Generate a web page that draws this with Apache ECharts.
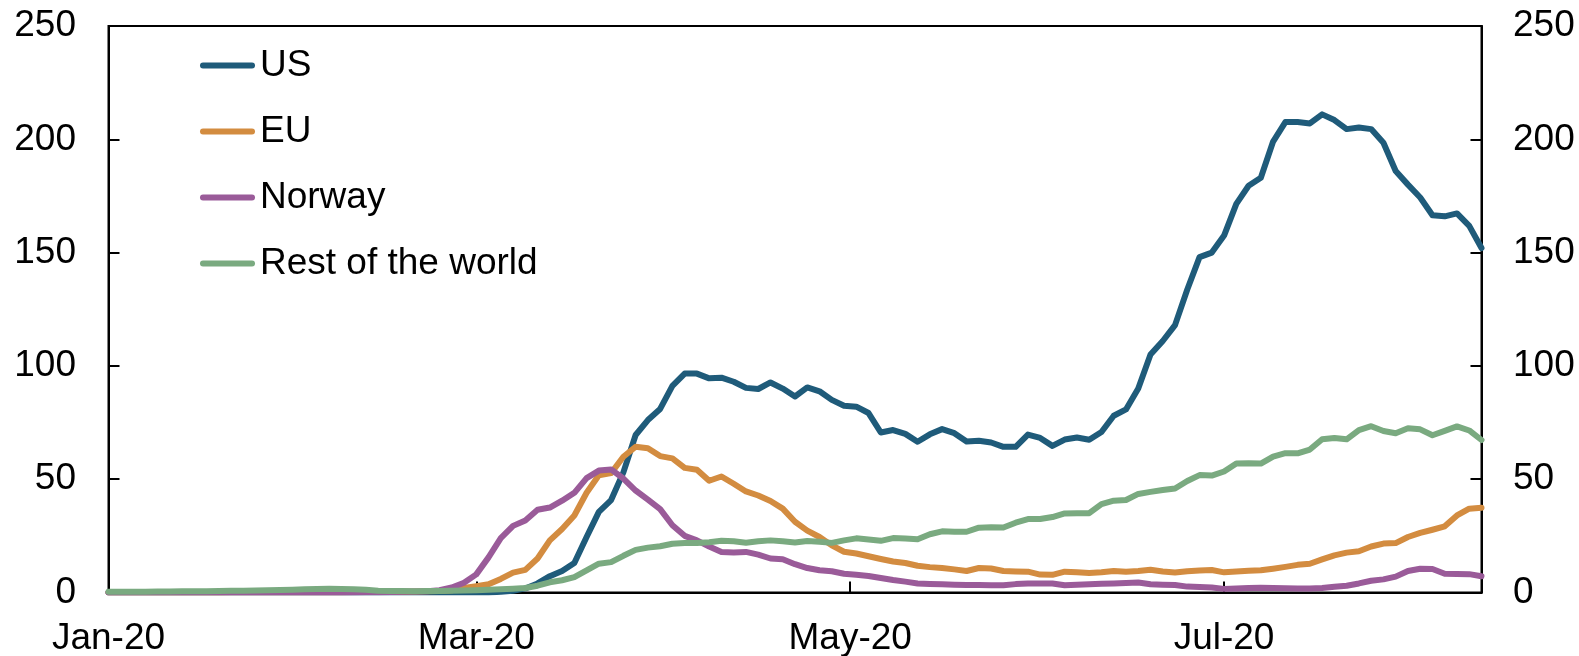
<!DOCTYPE html>
<html>
<head>
<meta charset="utf-8">
<title>US, EU, Norway, Rest of the world</title>
<script src="https://cdn.jsdelivr.net/npm/echarts@6/dist/echarts.min.js"></script>
<style>
  html, body { margin: 0; padding: 0; background: #fff; }
  #chart { width: 1579px; height: 656px; }
</style>
</head>
<body>
<div id="chart"></div>
<script>
// day offsets from 1 Jan 2020, every second day (rows of 10 = 20 days)
const days = [];
for (let d = 0; d <= 224; d += 2) days.push(d);

// axis ticks / labels (days from 1 Jan 2020)
const tickDays = [0, 60, 121, 182];
const tickLabels = ['Jan-20', 'Mar-20', 'May-20', 'Jul-20'];
const yTicks = [0, 50, 100, 150, 200, 250];

const us = [
  0, 0, 0, 0, 0, 0, 0, 0, 0, 0,
  0, 0, 0, 0, 0, 0, 0, 0, 0, 0,
  0, 0, 0, 0, 0, 0, 0, 0, 0, 0,
  0, 0, 0.3, 0.8, 1.8, 4, 7.2, 9.5, 13, 24.5,
  35.6, 40.8, 53, 69.5, 76.1, 81, 91.2, 96.6, 96.6, 94.5,
  94.8, 93, 90.3, 89.8, 92.7, 90, 86.5, 90.5, 88.8, 85,
  82.4, 82, 79.2, 70.6, 71.7, 70, 66.5, 69.8, 72.1, 70.3,
  66.6, 67, 66.2, 64.3, 64.3, 69.7, 68.2, 64.7, 67.5, 68.4,
  67.4, 70.8, 78, 80.8, 90, 105, 111, 118, 133.7, 148,
  150, 157.5, 171.5, 179.5, 183, 199, 207.6, 207.6, 207, 211,
  208.5, 204.5, 205.2, 204.5, 198.5, 186, 180, 174.3, 166.5, 166,
  167.3, 161.8, 152
];

const eu = [
  0, 0, 0, 0, 0, 0, 0, 0, 0, 0,
  0.1, 0.1, 0.1, 0.1, 0.1, 0.1, 0.1, 0.1, 0.1, 0.1,
  0.2, 0.2, 0.2, 0.3, 0.3, 0.4, 0.5, 0.7, 1, 2,
  2.8, 3.6, 6, 8.8, 10, 15, 23, 28, 34, 44,
  51.7, 52.7, 59.9, 64.3, 63.7, 60.2, 59.2, 55, 54.2, 49.3,
  51.2, 48, 44.6, 42.8, 40.4, 37, 31.2, 27.3, 24.5, 20.8,
  18, 17.2, 16, 14.8, 13.7, 13, 11.8, 11.2, 10.8, 10.2,
  9.5, 10.8, 10.6, 9.5, 9.3, 9.2, 7.9, 7.8, 9.2, 8.9,
  8.6, 8.9, 9.5, 9.2, 9.5, 10, 9.3, 8.8, 9.4, 9.7,
  9.9, 8.9, 9.3, 9.6, 9.8, 10.5, 11.3, 12.2, 12.7, 14.6,
  16.4, 17.6, 18.2, 20.3, 21.6, 21.8, 24.5, 26.3, 27.7, 29.2,
  34, 37, 37.4
];

const norway = [
  0, 0, 0, 0, 0, 0, 0, 0, 0, 0,
  0, 0, 0, 0, 0, 0, 0, 0, 0, 0,
  0, 0.1, 0.1, 0.2, 0.3, 0.4, 0.6, 1, 2.2, 4.3,
  8, 15.5, 24, 29.4, 31.8, 36.5, 37.5, 40.5, 44, 50.5,
  53.8, 54.3, 50.3, 45, 41, 36.8, 29.7, 25, 23, 20.3,
  17.9, 17.6, 17.9, 16.7, 15, 14.7, 12.5, 10.8, 9.8, 9.4,
  8.3, 7.8, 7.3, 6.4, 5.5, 4.8, 4, 3.8, 3.6, 3.4,
  3.3, 3.3, 3.2, 3.2, 3.7, 4, 4, 4, 3.2, 3.4,
  3.6, 3.9, 4, 4.2, 4.4, 3.6, 3.4, 3.3, 2.6, 2.4,
  2.2, 1.6, 1.8, 2, 2.1, 2, 1.9, 1.8, 1.8, 2,
  2.5, 3, 4, 5.2, 5.8, 7, 9.5, 10.5, 10.4, 8.3,
  8.2, 8.1, 7.2
];

const rest = [
  0.3, 0.3, 0.3, 0.3, 0.4, 0.4, 0.5, 0.5, 0.6, 0.7,
  0.8, 0.8, 0.9, 1, 1.1, 1.2, 1.4, 1.5, 1.6, 1.5,
  1.4, 1.2, 0.8, 0.7, 0.7, 0.6, 0.7, 0.7, 0.8, 0.9,
  1, 1.2, 1.4, 1.7, 2, 3, 4.5, 5.4, 6.8, 9.8,
  12.7, 13.4, 16.2, 18.8, 19.8, 20.4, 21.5, 21.8, 21.8, 22.2,
  22.8, 22.6, 22, 22.6, 23, 22.6, 22.1, 22.7, 22.4, 21.9,
  23, 23.9, 23.4, 22.8, 24, 23.8, 23.5, 25.7, 27, 26.8,
  26.8, 28.6, 28.8, 28.7, 30.8, 32.4, 32.4, 33.3, 34.9, 35,
  35, 39, 40.5, 40.8, 43.5, 44.4, 45.2, 45.9, 49.2, 51.8,
  51.6, 53.4, 56.9, 57, 56.9, 60, 61.5, 61.4, 63.1, 67.6,
  68.2, 67.6, 71.7, 73.4, 71.3, 70.3, 72.5, 72, 69.4, 71.3,
  73.3, 71.5, 67.3
];

const names = ['US', 'EU', 'Norway', 'Rest of the world'];
const colors = ['#1f5b7a', '#d38c40', '#9a5b99', '#7aaa80'];
const values = [us, eu, norway, rest];

const font = 'Liberation Sans, Arial, sans-serif';
const pill = 'path://M3,0H52A3,3,0,0,1,52,6H3A3,3,0,0,1,3,0Z';

const yAxisBase = {
  type: 'value',
  min: 0,
  max: 250,
  interval: 50,
  splitLine: { show: false },
  axisLine: { show: true, lineStyle: { color: '#000', width: 2 } },
  axisTick: { show: true, inside: true, length: 11, lineStyle: { color: '#000', width: 2 } },
  axisLabel: { color: '#000', fontSize: 37, fontFamily: font, customValues: yTicks }
};

const options = {
  backgroundColor: '#fff',
  animation: false,
  grid: {
    left: 108.5, right: 97.5, top: 26, bottom: 63.5,
    show: true, borderColor: '#000', borderWidth: 2,
    outerBoundsMode: 'none'
  },
  legend: {
    data: names,
    orient: 'vertical',
    left: 200,
    top: 47,
    padding: 0,
    itemWidth: 55,
    itemHeight: 6,
    itemGap: 29,
    icon: pill,
    textStyle: { color: '#000', fontSize: 37, fontFamily: font, lineHeight: 37 }
  },
  xAxis: {
    type: 'value',
    min: 0,
    max: 224,
    splitLine: { show: false },
    axisLine: { show: true, onZero: false, lineStyle: { color: '#000', width: 2 } },
    axisTick: { show: true, inside: true, length: 11, customValues: tickDays, lineStyle: { color: '#000', width: 2 } },
    axisLabel: {
      color: '#000', fontSize: 37, fontFamily: font, margin: 28,
      customValues: tickDays,
      formatter: (v) => tickLabels[tickDays.indexOf(v)] ?? ''
    }
  },
  yAxis: [
    { ...yAxisBase, position: 'left', axisLabel: { ...yAxisBase.axisLabel, margin: 32.5 } },
    { ...yAxisBase, position: 'right', axisLabel: { ...yAxisBase.axisLabel, margin: 31.5 } }
  ],
  series: names.map((name, k) => ({
    name,
    type: 'line',
    yAxisIndex: 0,
    showSymbol: false,
    symbol: 'none',
    data: days.map((d, i) => [d, values[k][i]]),
    color: colors[k],
    lineStyle: { color: colors[k], width: 6, cap: 'round', join: 'round' }
  }))
};

const chart = echarts.init(document.getElementById('chart'));
chart.setOption(options);
window.addEventListener('resize', () => {
  chart.resize();
});
</script>
</body>
</html>
